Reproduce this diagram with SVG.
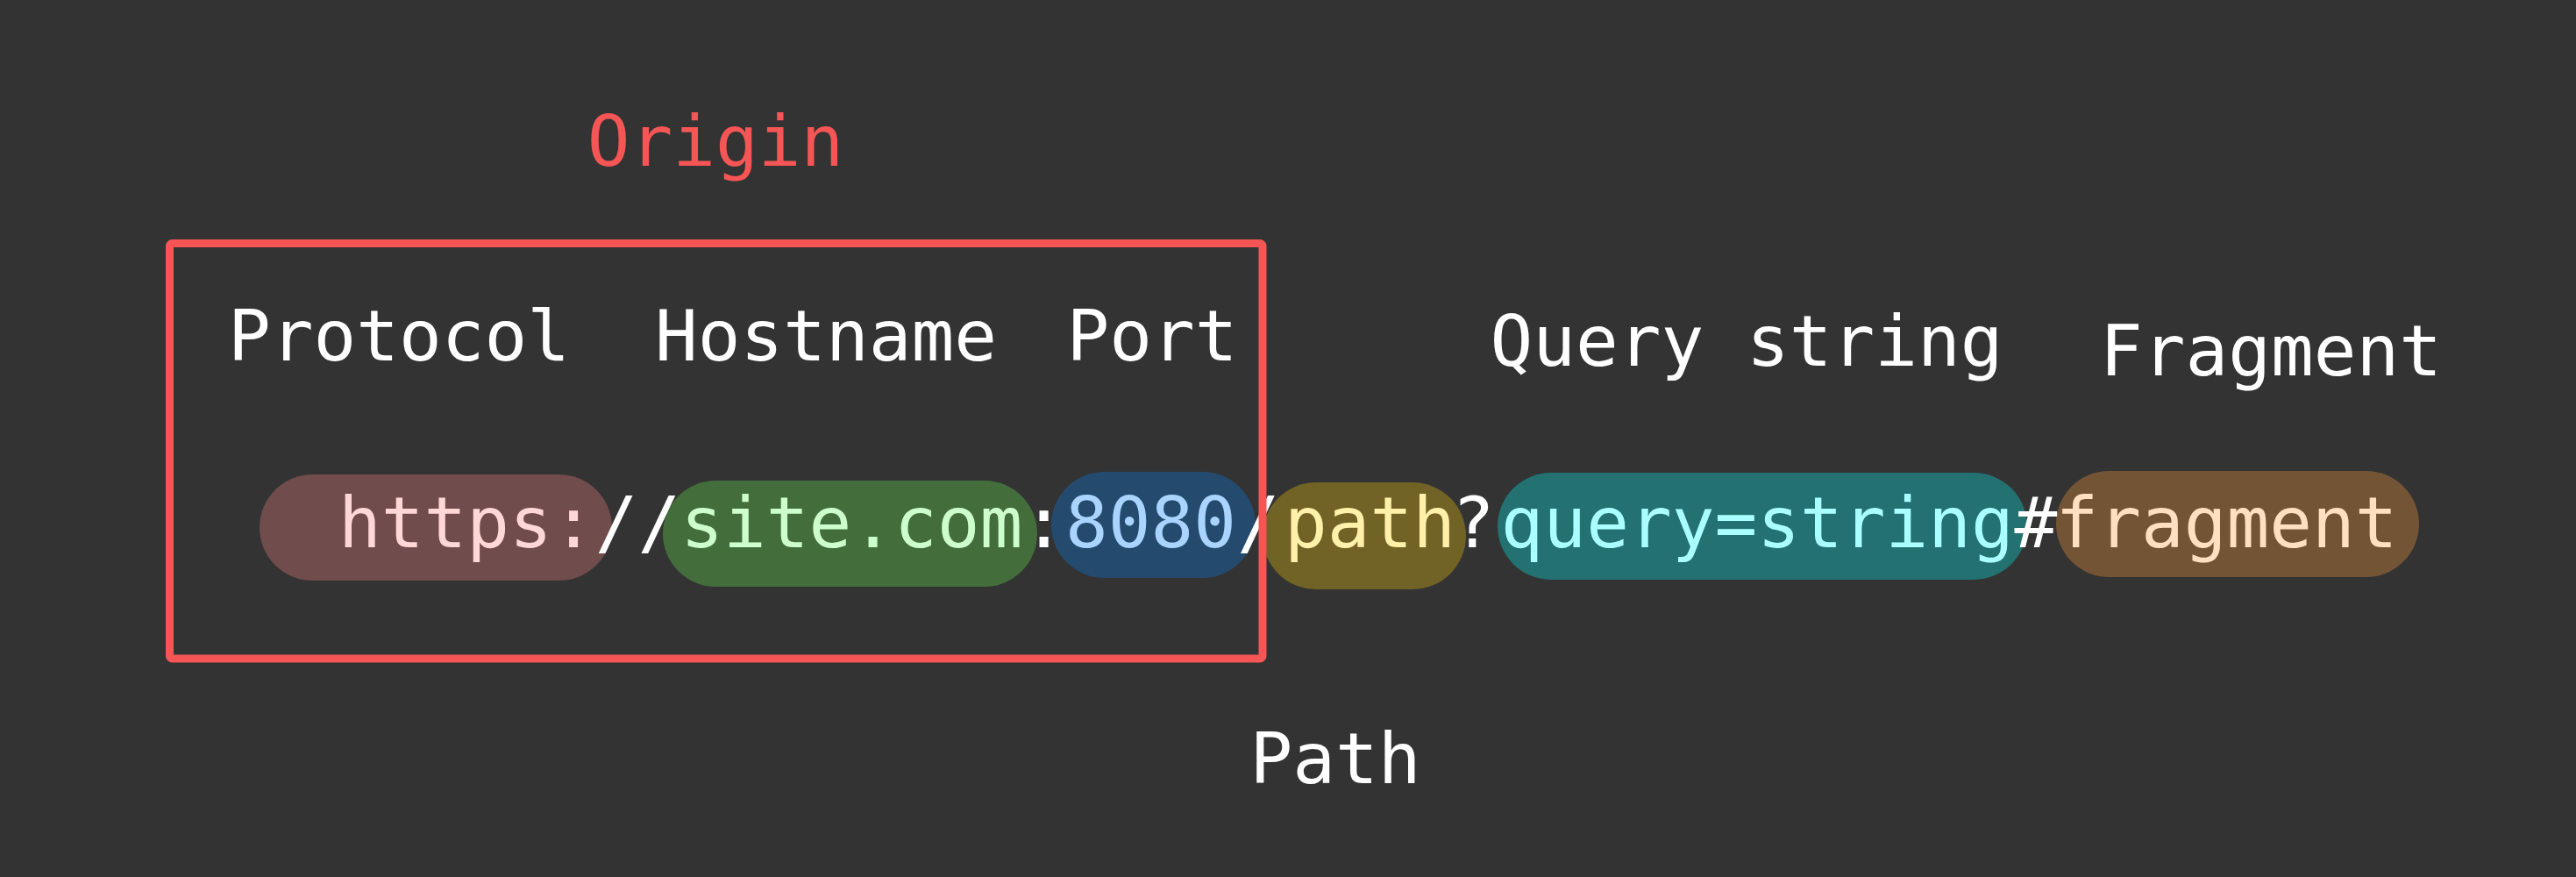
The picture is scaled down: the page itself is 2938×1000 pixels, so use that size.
<svg xmlns="http://www.w3.org/2000/svg" width="2938" height="1000" viewBox="0 0 2938 1000">
  <style>
    text { font-family: "DejaVu Sans Mono", "Liberation Mono", monospace; font-size: 81px; }
    .label { fill: #ffffff; text-anchor: middle; }
    .seg { text-anchor: start; }
    .sep { fill: #ffffff; text-anchor: start; }
    .origin { fill: #f55555; text-anchor: middle; }
  </style>
  <rect x="0" y="0" width="2938" height="1000" fill="#333333"/>

  <g id="protocol">
    <rect x="296" y="541" width="402" height="121" rx="60.5" fill="#704c4c"/>
    <text class="seg" x="386" y="624" fill="#ffd7d7">https:</text>
  </g>
  <g id="hostname">
    <rect x="756" y="548" width="427" height="121" rx="60.5" fill="#436e3c"/>
    <text class="seg" x="776.2" y="624" fill="#ccffcc">site.com</text>
  </g>
  <g id="port">
    <rect x="1199" y="538" width="233" height="121" rx="60.5" fill="#244b6e"/>
    <text class="seg" x="1215" y="624" fill="#aad4ff">8080</text>
  </g>
  <g id="path">
    <rect x="1440" y="550" width="232" height="122" rx="61" fill="#716326"/>
    <text class="seg" x="1465" y="624" fill="#fff0aa">path</text>
  </g>
  <g id="query">
    <rect x="1708" y="539" width="604" height="122" rx="61" fill="#237171"/>
    <text class="seg" x="1711.6" y="624" fill="#aaffff">query=string</text>
  </g>
  <g id="fragment">
    <rect x="2345" y="537" width="414" height="121" rx="60.5" fill="#735535"/>
    <text class="seg" x="2344.5" y="624" fill="#ffe0c0">fragment</text>
  </g>

  <g id="separators">
    <text class="sep" x="678.7" y="624">//</text>
    <text class="sep" x="1166.3" y="624">:</text>
    <text class="sep" x="1411" y="624">/</text>
    <text class="sep" x="1656" y="624">?</text>
    <text class="sep" x="2297.5" y="624">#</text>
  </g>

  <g id="labels">
    <text class="label" x="455" y="411">Protocol</text>
    <text class="label" x="942" y="411">Hostname</text>
    <text class="label" x="1314" y="411">Port</text>
    <text class="label" x="1992" y="417">Query string</text>
    <text class="label" x="2590" y="428">Fragment</text>
    <text class="label" x="1523" y="893">Path</text>
  </g>

  <g id="origin">
    <rect x="193.5" y="277.5" width="1246.5" height="473.5" rx="3" fill="none" stroke="#f55555" stroke-width="9"/>
    <text class="origin" x="816" y="189">Origin</text>
  </g>
</svg>
